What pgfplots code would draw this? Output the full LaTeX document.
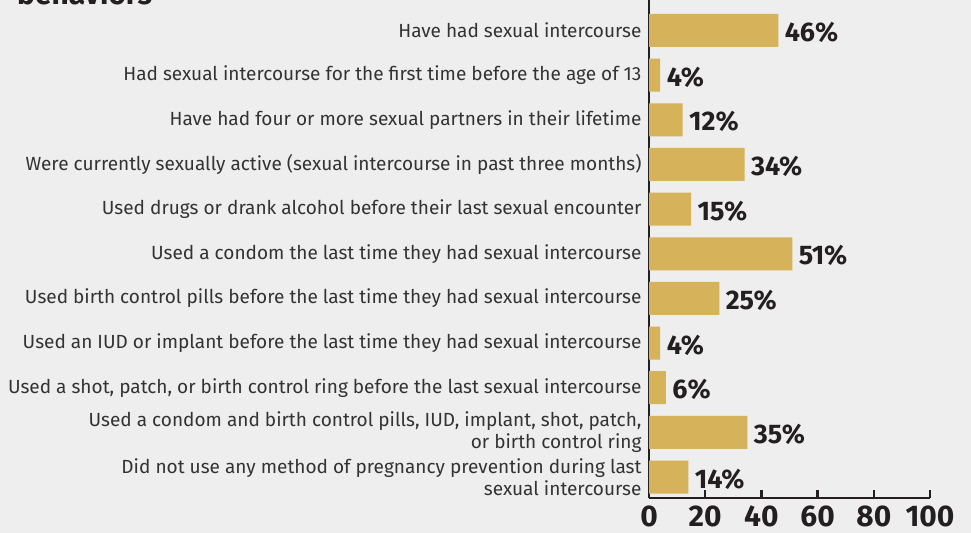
\documentclass[border=0pt]{standalone}
\usepackage{pgfplots}
\pgfplotsset{compat=1.18}
\usepackage{pgfplotstable}
\usepackage{fontspec}
\setmainfont{Fira Sans}
\definecolor{bg}{HTML}{EEEEEE}
\definecolor{barc}{HTML}{D6B25A}
\definecolor{ink}{HTML}{231F20}
\definecolor{lbl}{HTML}{333333}

% idx 10 = top row
\pgfplotstableread{
idx value
10 46
9 4
8 12
7 34
6 15
5 51
4 25
3 4
2 6
1 35
0 14
}\behav

\begin{document}
\begin{tikzpicture}[x=1bp,y=1bp]
\clip (0,0) rectangle (971,-533);
\fill[bg] (0,0) rectangle (971,-533);
\node[anchor=base west, font=\fontsize{30}{30}\selectfont\bfseries, text=ink, inner sep=0] at (17,-5) {behaviors};
\begin{axis}[
    at={(649bp,-498bp)}, anchor=south west,
    scale only axis, width=281bp, height=501bp,
    xmin=0, xmax=100, ymin=-0.47, ymax=10.75,
    /pgf/number format/assume math mode=true,
    axis x line*=bottom, axis y line*=left,
    axis line style={line width=2.5bp, ink},
    xtick={0,20,40,60,80,100},
    xticklabels={0,20,40,60,80,100},
    tick align=inside,
    major tick length=8bp,
    x tick style={line width=2.5bp, ink},
    xticklabel style={font=\fontsize{30}{30}\selectfont\bfseries, text=ink, inner sep=0.5bp, yshift=-7bp},
    ytick={0,...,10},
    y tick style={draw=none},
    yticklabel style={align=right, font=\fontsize{19.1}{22.5}\selectfont, text=lbl, xshift=-4bp},
    yticklabels={
      {Did not use any method of pregnancy prevention during last\\sexual intercourse},
      {Used a condom and birth control pills, IUD, implant, shot, patch,\\or birth control ring},
      {Used a shot, patch, or birth control ring before the last sexual intercourse},
      {Used an IUD or implant before the last time they had sexual intercourse},
      {Used birth control pills before the last time they had sexual intercourse},
      {Used a condom the last time they had sexual intercourse},
      {Used drugs or drank alcohol before their last sexual encounter},
      {Were currently sexually active (sexual intercourse in past three months)},
      {Have had four or more sexual partners in their lifetime},
      {Had sexual intercourse for the first time before the age of 13},
      {Have had sexual intercourse}},
    clip=false,
]
\addplot[xbar, fill=barc, draw=none, bar width=33bp,
    point meta=x,
    nodes near coords={\pgfmathprintnumber{\pgfplotspointmeta}\%},
    nodes near coords style={font=\fontsize{27}{27}\selectfont\bfseries, text=ink, anchor=west, xshift=3bp, yshift=-2bp}]
  table[x=value, y=idx] {\behav};
\end{axis}
\end{tikzpicture}
\end{document}
